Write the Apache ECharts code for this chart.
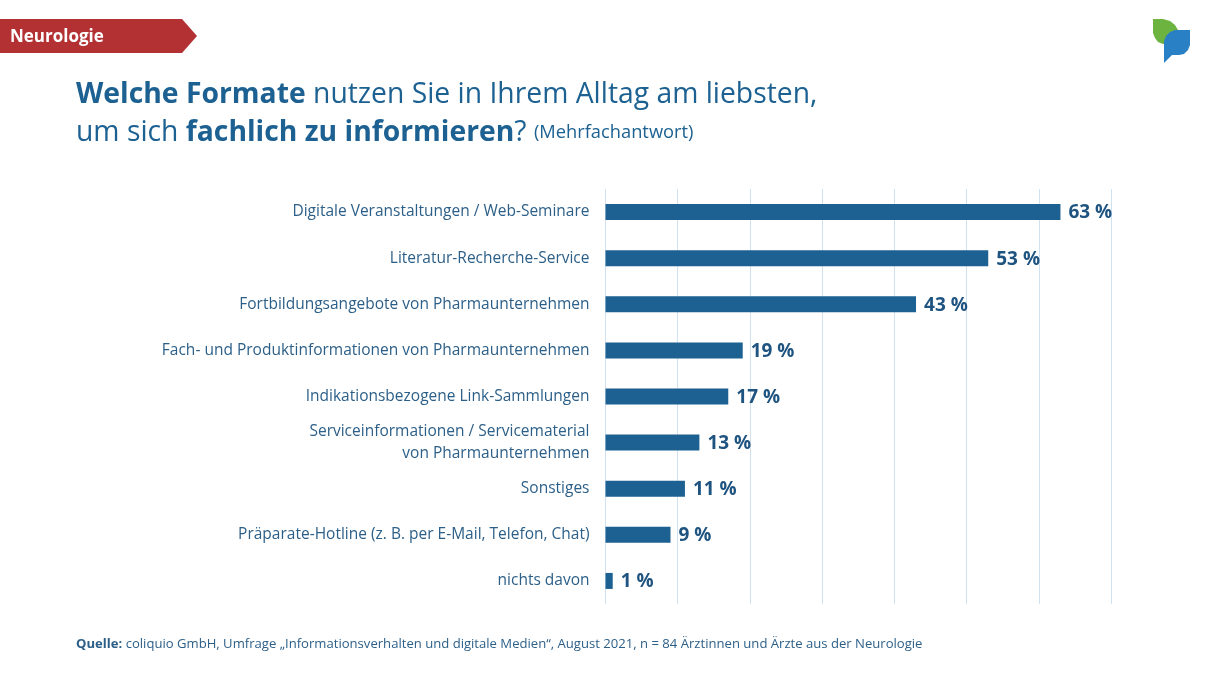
<html lang="de">
<head>
  <meta charset="utf-8">
  <title>Neurologie</title>
  <script src="https://cdn.jsdelivr.net/npm/echarts@6/dist/echarts.min.js"></script>
  <style>
    html, body { margin: 0; padding: 0; background: #fff; }
    #main { width: 1210px; height: 680px; }
  </style>
</head>
<body>
  <div id="main"></div>
<script>
  var categories = [
    'Digitale Veranstaltungen / Web-Seminare',
    'Literatur-Recherche-Service',
    'Fortbildungsangebote von Pharmaunternehmen',
    'Fach- und Produktinformationen von Pharmaunternehmen',
    'Indikationsbezogene Link-Sammlungen',
    'Serviceinformationen / Servicematerial\nvon Pharmaunternehmen',
    'Sonstiges',
    'Präparate-Hotline (z. B. per E-Mail, Telefon, Chat)',
    'nichts davon'
  ];
  var values = [63, 53, 43, 19, 17, 13, 11, 9, 1];

  var font = '"Open Sans", "Noto Sans", sans-serif';
  var blue = '#1c6191';
  var textblue = '#2c5f88';

  var myChart = echarts.init(document.getElementById('main'));
  myChart.setOption({
    animation: false,
    backgroundColor: '#fff',
    textStyle: { fontFamily: font },
    title: [
      {
        left: 76,
        top: 76,
        padding: 0,
        itemGap: 0,
        text: '{b|Welche Formate }{n|nutzen Sie in Ihrem Alltag am liebsten,}\n{n|um sich }{b|fachlich zu informieren}{n|? }{s|(Mehrfachantwort)}',
        textStyle: {
          rich: {
            b: { fontFamily: font, fontSize: 28.3, fontWeight: 700, color: blue, lineHeight: 38 },
            n: { fontFamily: font, fontSize: 28.3, fontWeight: 400, color: blue, lineHeight: 38 },
            s: { fontFamily: font, fontSize: 18.3, fontWeight: 400, color: blue, lineHeight: 38 }
          }
        }
      },
      {
        left: 76,
        top: 638,
        padding: 0,
        text: '{b|Quelle: }{n|coliquio GmbH, Umfrage „Informationsverhalten und digitale Medien“, August 2021, n = 84 Ärztinnen und Ärzte aus der Neurologie}',
        textStyle: {
          rich: {
            b: { fontFamily: font, fontSize: 13.1, fontWeight: 700, color: textblue },
            n: { fontFamily: font, fontSize: 13.1, fontWeight: 400, color: textblue }
          }
        }
      }
    ],
    grid: { left: 605.5, top: 189, width: 505.5, height: 415, containLabel: false },
    xAxis: {
      type: 'value',
      min: 0,
      max: 70,
      interval: 10,
      axisLabel: { show: false },
      axisLine: { show: false },
      axisTick: { show: false },
      splitLine: { show: true, showMinLine: true, showMaxLine: true, lineStyle: { color: '#d0e2f0', width: 1 } }
    },
    yAxis: {
      type: 'category',
      inverse: true,
      data: categories,
      axisLine: { show: false },
      axisTick: { show: false },
      axisLabel: { margin: 16, color: textblue, fontFamily: font, fontSize: 15.5, lineHeight: 22, align: 'right' }
    },
    series: [
      {
        type: 'bar',
        data: values,
        barWidth: 16,
        itemStyle: { color: blue },
        label: {
          show: true,
          position: 'right',
          distance: 8,
          offset: [0, 1],
          formatter: '{c} %',
          color: '#1f5480',
          fontFamily: font,
          fontSize: 19,
          fontWeight: 700
        }
      }
    ],
    graphic: [
      {
        type: 'polygon',
        shape: { points: [[0, 19], [182, 19], [197, 36], [182, 53], [0, 53]] },
        style: { fill: '#b33033' }
      },
      {
        type: 'text',
        x: 10,
        y: 29,
        style: { text: 'Neurologie', fill: '#fff', font: '700 17px ' + font }
      },
      {
        type: 'polygon',
        shape: { points: [[1153, 19], [1163, 19], [1170, 21], [1175, 25], [1178, 30], [1178, 44], [1163, 44], [1158, 42], [1155, 38], [1153, 33]] },
        style: { fill: '#6db33f' }
      },
      {
        type: 'polygon',
        shape: { points: [[1190, 30], [1190, 45], [1188, 50], [1184, 54], [1179, 55], [1172, 55], [1164, 63], [1164, 41], [1166, 36], [1170, 32], [1175, 30]] },
        style: { fill: '#2a80c4' }
      }
    ]
  });
</script>
</body>
</html>
